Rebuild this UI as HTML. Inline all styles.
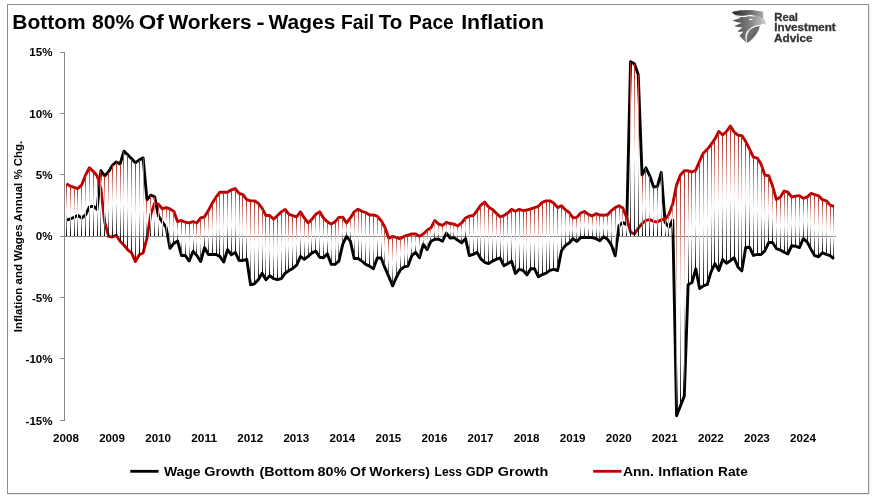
<!DOCTYPE html>
<html><head><meta charset="utf-8"><title>Chart</title>
<style>html,body{margin:0;padding:0;background:#fff;}body{width:875px;height:498px;position:relative;overflow:hidden;font-family:"Liberation Sans",sans-serif;}</style>
</head><body>
<svg width="875" height="498" viewBox="0 0 875 498" style="position:absolute;left:0;top:0;will-change:transform;transform:translateZ(0)">
<defs>
<linearGradient id="g" x1="0" y1="0" x2="0" y2="1">
<stop offset="0" stop-color="#ae2216"/><stop offset="0.54" stop-color="#ffffff"/><stop offset="1" stop-color="#000000"/>
</linearGradient>
<linearGradient id="e1" x1="0" y1="0" x2="1" y2="0"><stop offset="0" stop-color="#2a2a2a"/><stop offset="0.5" stop-color="#5a5a5a"/><stop offset="1" stop-color="#a8a8a8"/></linearGradient>
<linearGradient id="e3" x1="0" y1="0" x2="1" y2="0"><stop offset="0" stop-color="#454545"/><stop offset="0.5" stop-color="#7c7c7c"/><stop offset="1" stop-color="#cfcfcf"/></linearGradient>
<linearGradient id="e2" x1="0" y1="0" x2="1" y2="1"><stop offset="0" stop-color="#8c8c8c"/><stop offset="1" stop-color="#444444"/></linearGradient>
</defs>
<rect x="7.5" y="4.5" width="861" height="489" fill="#fff" stroke="#8c8c8c" stroke-width="1"/>
<path d="M869,5 V494 H8" fill="none" stroke="#9a9a9a" stroke-width="0.5"/>
<rect x="64" y="52" width="1" height="369" fill="#868686" shape-rendering="crispEdges"/>
<rect x="60" y="52" width="4" height="1" fill="#868686" shape-rendering="crispEdges"/>
<rect x="60" y="113" width="4" height="1" fill="#868686" shape-rendering="crispEdges"/>
<rect x="60" y="174" width="4" height="1" fill="#868686" shape-rendering="crispEdges"/>
<rect x="60" y="236" width="4" height="1" fill="#868686" shape-rendering="crispEdges"/>
<rect x="60" y="297" width="4" height="1" fill="#868686" shape-rendering="crispEdges"/>
<rect x="60" y="358" width="4" height="1" fill="#868686" shape-rendering="crispEdges"/>
<rect x="60" y="420" width="4" height="1" fill="#868686" shape-rendering="crispEdges"/>
<rect x="64" y="236" width="772" height="1" fill="#868686" shape-rendering="crispEdges"/>
<path d="M66.36,220.21 L70.20,218.98 L74.04,217.39 L77.87,215.30 L81.71,218.12 L85.55,214.93 L89.39,206.96 L93.23,206.10 L97.06,209.41 L100.90,170.77 L104.74,175.92 L108.58,171.63 L112.42,165.25 L116.25,161.94 L120.09,164.02 L123.93,151.14 L127.77,154.70 L131.61,158.75 L135.44,162.80 L139.28,159.85 L143.12,157.89 L146.96,199.72 L150.80,195.18 L154.63,196.78 L158.47,216.04 L162.31,221.92 L166.15,227.45 L169.99,248.30 L173.82,243.39 L177.66,241.06 L181.50,255.54 L185.34,255.54 L189.18,260.93 L193.01,251.49 L196.85,255.41 L200.69,261.55 L204.53,247.56 L208.37,254.43 L212.20,254.43 L216.04,254.43 L219.88,256.40 L223.72,262.04 L227.56,249.65 L231.39,254.80 L235.23,252.35 L239.07,260.44 L242.91,260.44 L246.75,259.34 L250.58,284.85 L254.42,283.75 L258.26,279.70 L262.10,273.20 L265.94,279.70 L269.77,275.65 L273.61,278.60 L277.45,279.70 L281.29,278.60 L285.13,273.20 L288.96,270.50 L292.80,268.42 L296.64,265.23 L300.48,256.40 L304.32,259.34 L308.15,256.40 L311.99,252.84 L315.83,251.12 L319.67,257.25 L323.51,257.74 L327.34,253.70 L331.18,264.37 L335.02,264.25 L338.86,261.18 L342.70,244.37 L346.53,236.40 L350.37,241.18 L354.21,258.48 L358.05,258.48 L361.89,261.18 L365.72,264.37 L369.56,266.09 L373.40,268.78 L377.24,257.99 L381.08,257.99 L384.91,267.68 L388.75,276.51 L392.59,285.84 L396.43,277.25 L400.27,270.01 L404.10,266.82 L407.94,266.09 L411.78,255.66 L415.62,252.35 L419.46,257.74 L423.29,244.37 L427.13,249.65 L430.97,241.18 L434.81,239.22 L438.65,239.22 L442.48,241.18 L446.32,233.09 L450.16,237.99 L454.00,237.63 L457.84,240.33 L461.67,242.78 L465.51,238.61 L469.35,255.66 L473.19,254.43 L477.03,252.35 L480.86,258.85 L484.70,262.28 L488.54,263.63 L492.38,261.18 L496.22,259.34 L500.05,257.99 L503.89,265.72 L507.73,263.63 L511.57,261.18 L515.41,273.57 L519.24,269.28 L523.08,270.38 L526.92,274.92 L530.76,268.78 L534.60,268.78 L538.43,276.76 L542.27,274.55 L546.11,273.20 L549.95,270.38 L553.79,269.28 L557.62,270.50 L561.46,250.75 L565.30,245.60 L569.14,243.02 L572.98,238.73 L576.81,241.43 L580.65,237.63 L584.49,237.50 L588.33,237.50 L592.17,237.50 L596.00,238.61 L599.84,240.69 L603.68,236.77 L607.52,239.22 L611.36,244.86 L615.19,255.78 L619.03,225.61 L622.87,222.42 L626.71,224.75 L630.55,61.72 L634.38,63.80 L638.22,74.48 L642.06,175.06 L645.90,167.83 L649.74,175.80 L653.57,187.09 L657.41,186.35 L661.25,172.37 L665.09,222.42 L668.93,227.20 L672.76,219.96 L676.60,415.74 L680.44,405.93 L684.28,396.12 L688.12,284.85 L691.95,282.52 L695.79,268.78 L699.63,288.53 L703.47,285.84 L707.31,284.49 L711.14,271.61 L714.98,263.63 L718.82,270.50 L722.66,259.58 L726.50,263.26 L730.33,260.69 L734.17,257.74 L738.01,267.19 L741.85,270.87 L745.69,247.56 L749.52,247.19 L753.36,255.41 L757.20,254.43 L761.04,254.43 L764.88,250.75 L768.71,242.53 L772.55,242.41 L776.39,248.54 L780.23,250.02 L784.07,252.22 L787.90,253.94 L791.74,245.72 L795.58,246.21 L799.42,247.56 L803.26,238.73 L807.09,241.92 L810.93,249.16 L814.77,255.66 L818.61,256.76 L822.45,252.72 L826.28,254.31 L830.12,255.66 L833.96,258.85" fill="none" stroke="#000" stroke-width="2.9" stroke-linejoin="round" stroke-linecap="butt"/>
<path d="M66.36,183.65 L70.20,186.11 L74.04,187.33 L77.87,188.56 L81.71,184.88 L85.55,175.06 L89.39,167.70 L93.23,171.38 L97.06,175.68 L100.90,188.56 L104.74,222.29 L108.58,236.40 L112.42,237.01 L116.25,235.17 L120.09,241.31 L123.93,244.99 L127.77,249.89 L131.61,252.96 L135.44,261.55 L139.28,254.80 L143.12,252.96 L146.96,238.24 L150.80,214.32 L154.63,203.28 L158.47,204.14 L162.31,208.80 L166.15,207.57 L169.99,208.92 L173.82,211.38 L177.66,221.68 L181.50,220.45 L185.34,222.29 L189.18,222.91 L193.01,221.68 L196.85,222.91 L200.69,218.00 L204.53,216.77 L208.37,210.64 L212.20,203.28 L216.04,197.15 L219.88,192.24 L223.72,192.24 L227.56,192.24 L231.39,189.79 L235.23,188.56 L239.07,193.47 L242.91,194.69 L246.75,199.60 L250.58,200.83 L254.42,200.83 L258.26,203.28 L262.10,208.19 L265.94,215.55 L269.77,215.55 L273.61,219.23 L277.45,215.55 L281.29,211.87 L285.13,209.41 L288.96,214.32 L292.80,215.55 L296.64,216.77 L300.48,211.87 L304.32,218.00 L308.15,222.91 L311.99,219.23 L315.83,214.32 L319.67,211.87 L323.51,218.00 L327.34,221.68 L331.18,224.13 L335.02,221.68 L338.86,217.39 L342.70,217.14 L346.53,222.91 L350.37,218.00 L354.21,211.87 L358.05,209.17 L361.89,211.25 L365.72,212.60 L369.56,214.93 L373.40,214.93 L377.24,216.16 L381.08,220.45 L384.91,227.20 L388.75,238.24 L392.59,236.40 L396.43,237.63 L400.27,238.85 L404.10,236.40 L407.94,235.17 L411.78,233.95 L415.62,233.95 L419.46,236.40 L423.29,233.95 L427.13,230.27 L430.97,227.81 L434.81,220.45 L438.65,224.13 L442.48,225.36 L446.32,222.29 L450.16,223.52 L454.00,224.13 L457.84,225.97 L461.67,222.91 L465.51,218.00 L469.35,216.16 L473.19,215.55 L477.03,210.64 L480.86,205.12 L484.70,202.05 L488.54,206.96 L492.38,209.41 L496.22,213.09 L500.05,216.77 L503.89,215.55 L507.73,213.09 L511.57,209.41 L515.41,211.25 L519.24,209.41 L523.08,210.64 L526.92,210.03 L530.76,208.80 L534.60,207.57 L538.43,206.35 L542.27,202.30 L546.11,200.83 L549.95,200.83 L553.79,203.28 L557.62,207.57 L561.46,205.73 L565.30,209.66 L569.14,212.48 L572.98,217.75 L576.81,217.39 L580.65,213.09 L584.49,211.50 L588.33,214.32 L592.17,215.91 L596.00,213.71 L599.84,215.06 L603.68,215.30 L607.52,214.81 L611.36,210.64 L615.19,207.57 L619.03,205.73 L622.87,207.94 L626.71,217.63 L630.55,232.11 L634.38,233.95 L638.22,228.43 L642.06,223.52 L645.90,220.45 L649.74,219.59 L653.57,221.43 L657.41,222.05 L661.25,219.72 L665.09,219.23 L668.93,214.32 L672.76,203.89 L676.60,184.88 L680.44,175.06 L684.28,170.77 L688.12,170.77 L691.95,172.00 L695.79,170.16 L699.63,160.96 L703.47,152.98 L707.31,149.30 L711.14,144.40 L714.98,138.88 L718.82,131.52 L722.66,134.95 L726.50,131.52 L730.33,126.00 L734.17,132.13 L738.01,135.20 L741.85,135.57 L745.69,141.58 L749.52,149.06 L753.36,157.16 L757.20,158.14 L761.04,164.02 L764.88,175.31 L768.71,175.68 L772.55,186.11 L776.39,199.60 L780.23,197.15 L784.07,191.01 L787.90,192.24 L791.74,197.15 L795.58,196.16 L799.42,195.67 L803.26,198.37 L807.09,197.15 L810.93,193.47 L814.77,194.69 L818.61,195.92 L822.45,199.60 L826.28,200.83 L830.12,205.12 L833.96,206.35" fill="none" stroke="#c00000" stroke-width="2.9" stroke-linejoin="round" stroke-linecap="butt"/>
<g shape-rendering="crispEdges"><rect x="66" y="183.65" width="1" height="52.75" fill="url(#g)"/><rect x="70" y="186.11" width="1" height="50.29" fill="url(#g)"/><rect x="74" y="187.33" width="1" height="49.07" fill="url(#g)"/><rect x="77" y="188.56" width="1" height="47.84" fill="url(#g)"/><rect x="81" y="184.88" width="1" height="51.52" fill="url(#g)"/><rect x="85" y="175.06" width="1" height="61.34" fill="url(#g)"/><rect x="89" y="167.70" width="1" height="68.70" fill="url(#g)"/><rect x="93" y="171.38" width="1" height="65.02" fill="url(#g)"/><rect x="97" y="175.68" width="1" height="60.72" fill="url(#g)"/><rect x="100" y="170.77" width="1" height="65.63" fill="url(#g)"/><rect x="104" y="175.92" width="1" height="60.48" fill="url(#g)"/><rect x="108" y="171.63" width="1" height="64.77" fill="url(#g)"/><rect x="112" y="165.25" width="1" height="71.76" fill="url(#g)"/><rect x="116" y="161.94" width="1" height="74.46" fill="url(#g)"/><rect x="120" y="164.02" width="1" height="77.28" fill="url(#g)"/><rect x="123" y="151.14" width="1" height="93.84" fill="url(#g)"/><rect x="127" y="154.70" width="1" height="95.19" fill="url(#g)"/><rect x="131" y="158.75" width="1" height="94.21" fill="url(#g)"/><rect x="135" y="162.80" width="1" height="98.75" fill="url(#g)"/><rect x="139" y="159.85" width="1" height="94.95" fill="url(#g)"/><rect x="143" y="157.89" width="1" height="95.07" fill="url(#g)"/><rect x="146" y="199.72" width="1" height="38.52" fill="url(#g)"/><rect x="150" y="195.18" width="1" height="41.22" fill="url(#g)"/><rect x="154" y="196.78" width="1" height="39.62" fill="url(#g)"/><rect x="158" y="204.14" width="1" height="32.26" fill="url(#g)"/><rect x="162" y="208.80" width="1" height="27.60" fill="url(#g)"/><rect x="166" y="207.57" width="1" height="28.83" fill="url(#g)"/><rect x="169" y="208.92" width="1" height="39.38" fill="url(#g)"/><rect x="173" y="211.38" width="1" height="32.02" fill="url(#g)"/><rect x="177" y="221.68" width="1" height="19.38" fill="url(#g)"/><rect x="181" y="220.45" width="1" height="35.08" fill="url(#g)"/><rect x="185" y="222.29" width="1" height="33.24" fill="url(#g)"/><rect x="189" y="222.91" width="1" height="38.03" fill="url(#g)"/><rect x="193" y="221.68" width="1" height="29.81" fill="url(#g)"/><rect x="196" y="222.91" width="1" height="32.51" fill="url(#g)"/><rect x="200" y="218.00" width="1" height="43.55" fill="url(#g)"/><rect x="204" y="216.77" width="1" height="30.79" fill="url(#g)"/><rect x="208" y="210.64" width="1" height="43.79" fill="url(#g)"/><rect x="212" y="203.28" width="1" height="51.15" fill="url(#g)"/><rect x="216" y="197.15" width="1" height="57.29" fill="url(#g)"/><rect x="219" y="192.24" width="1" height="64.16" fill="url(#g)"/><rect x="223" y="192.24" width="1" height="69.80" fill="url(#g)"/><rect x="227" y="192.24" width="1" height="57.41" fill="url(#g)"/><rect x="231" y="189.79" width="1" height="65.02" fill="url(#g)"/><rect x="235" y="188.56" width="1" height="63.79" fill="url(#g)"/><rect x="239" y="193.47" width="1" height="66.98" fill="url(#g)"/><rect x="242" y="194.69" width="1" height="65.75" fill="url(#g)"/><rect x="246" y="199.60" width="1" height="59.74" fill="url(#g)"/><rect x="250" y="200.83" width="1" height="84.03" fill="url(#g)"/><rect x="254" y="200.83" width="1" height="82.92" fill="url(#g)"/><rect x="258" y="203.28" width="1" height="76.42" fill="url(#g)"/><rect x="262" y="208.19" width="1" height="65.02" fill="url(#g)"/><rect x="265" y="215.55" width="1" height="64.16" fill="url(#g)"/><rect x="269" y="215.55" width="1" height="60.11" fill="url(#g)"/><rect x="273" y="219.23" width="1" height="59.37" fill="url(#g)"/><rect x="277" y="215.55" width="1" height="64.16" fill="url(#g)"/><rect x="281" y="211.87" width="1" height="66.73" fill="url(#g)"/><rect x="285" y="209.41" width="1" height="63.79" fill="url(#g)"/><rect x="288" y="214.32" width="1" height="56.18" fill="url(#g)"/><rect x="292" y="215.55" width="1" height="52.87" fill="url(#g)"/><rect x="296" y="216.77" width="1" height="48.45" fill="url(#g)"/><rect x="300" y="211.87" width="1" height="44.53" fill="url(#g)"/><rect x="304" y="218.00" width="1" height="41.34" fill="url(#g)"/><rect x="308" y="222.91" width="1" height="33.49" fill="url(#g)"/><rect x="311" y="219.23" width="1" height="33.61" fill="url(#g)"/><rect x="315" y="214.32" width="1" height="36.80" fill="url(#g)"/><rect x="319" y="211.87" width="1" height="45.39" fill="url(#g)"/><rect x="323" y="218.00" width="1" height="39.75" fill="url(#g)"/><rect x="327" y="221.68" width="1" height="32.02" fill="url(#g)"/><rect x="331" y="224.13" width="1" height="40.24" fill="url(#g)"/><rect x="335" y="221.68" width="1" height="42.57" fill="url(#g)"/><rect x="338" y="217.39" width="1" height="43.79" fill="url(#g)"/><rect x="342" y="217.14" width="1" height="27.23" fill="url(#g)"/><rect x="346" y="222.91" width="1" height="13.49" fill="url(#g)"/><rect x="350" y="218.00" width="1" height="23.18" fill="url(#g)"/><rect x="354" y="211.87" width="1" height="46.61" fill="url(#g)"/><rect x="358" y="209.17" width="1" height="49.31" fill="url(#g)"/><rect x="361" y="211.25" width="1" height="49.93" fill="url(#g)"/><rect x="365" y="212.60" width="1" height="51.77" fill="url(#g)"/><rect x="369" y="214.93" width="1" height="51.15" fill="url(#g)"/><rect x="373" y="214.93" width="1" height="53.85" fill="url(#g)"/><rect x="377" y="216.16" width="1" height="41.83" fill="url(#g)"/><rect x="381" y="220.45" width="1" height="37.54" fill="url(#g)"/><rect x="384" y="227.20" width="1" height="40.48" fill="url(#g)"/><rect x="388" y="236.40" width="1" height="40.11" fill="url(#g)"/><rect x="392" y="236.40" width="1" height="49.44" fill="url(#g)"/><rect x="396" y="236.40" width="1" height="40.85" fill="url(#g)"/><rect x="400" y="236.40" width="1" height="33.61" fill="url(#g)"/><rect x="404" y="236.40" width="1" height="30.42" fill="url(#g)"/><rect x="407" y="235.17" width="1" height="30.91" fill="url(#g)"/><rect x="411" y="233.95" width="1" height="21.71" fill="url(#g)"/><rect x="415" y="233.95" width="1" height="18.40" fill="url(#g)"/><rect x="419" y="236.40" width="1" height="21.34" fill="url(#g)"/><rect x="423" y="233.95" width="1" height="10.43" fill="url(#g)"/><rect x="427" y="230.27" width="1" height="19.38" fill="url(#g)"/><rect x="430" y="227.81" width="1" height="13.37" fill="url(#g)"/><rect x="434" y="220.45" width="1" height="18.77" fill="url(#g)"/><rect x="438" y="224.13" width="1" height="15.09" fill="url(#g)"/><rect x="442" y="225.36" width="1" height="15.82" fill="url(#g)"/><rect x="446" y="222.29" width="1" height="14.11" fill="url(#g)"/><rect x="450" y="223.52" width="1" height="14.48" fill="url(#g)"/><rect x="453" y="224.13" width="1" height="13.49" fill="url(#g)"/><rect x="457" y="225.97" width="1" height="14.35" fill="url(#g)"/><rect x="461" y="222.91" width="1" height="19.87" fill="url(#g)"/><rect x="465" y="218.00" width="1" height="20.61" fill="url(#g)"/><rect x="469" y="216.16" width="1" height="39.50" fill="url(#g)"/><rect x="473" y="215.55" width="1" height="38.89" fill="url(#g)"/><rect x="477" y="210.64" width="1" height="41.71" fill="url(#g)"/><rect x="480" y="205.12" width="1" height="53.73" fill="url(#g)"/><rect x="484" y="202.05" width="1" height="60.23" fill="url(#g)"/><rect x="488" y="206.96" width="1" height="56.67" fill="url(#g)"/><rect x="492" y="209.41" width="1" height="51.77" fill="url(#g)"/><rect x="496" y="213.09" width="1" height="46.25" fill="url(#g)"/><rect x="500" y="216.77" width="1" height="41.22" fill="url(#g)"/><rect x="503" y="215.55" width="1" height="50.17" fill="url(#g)"/><rect x="507" y="213.09" width="1" height="50.54" fill="url(#g)"/><rect x="511" y="209.41" width="1" height="51.77" fill="url(#g)"/><rect x="515" y="211.25" width="1" height="62.32" fill="url(#g)"/><rect x="519" y="209.41" width="1" height="59.86" fill="url(#g)"/><rect x="523" y="210.64" width="1" height="59.74" fill="url(#g)"/><rect x="526" y="210.03" width="1" height="64.89" fill="url(#g)"/><rect x="530" y="208.80" width="1" height="59.99" fill="url(#g)"/><rect x="534" y="207.57" width="1" height="61.21" fill="url(#g)"/><rect x="538" y="206.35" width="1" height="70.41" fill="url(#g)"/><rect x="542" y="202.30" width="1" height="72.25" fill="url(#g)"/><rect x="546" y="200.83" width="1" height="72.38" fill="url(#g)"/><rect x="549" y="200.83" width="1" height="69.55" fill="url(#g)"/><rect x="553" y="203.28" width="1" height="66.00" fill="url(#g)"/><rect x="557" y="207.57" width="1" height="62.93" fill="url(#g)"/><rect x="561" y="205.73" width="1" height="45.02" fill="url(#g)"/><rect x="565" y="209.66" width="1" height="35.94" fill="url(#g)"/><rect x="569" y="212.48" width="1" height="30.54" fill="url(#g)"/><rect x="572" y="217.75" width="1" height="20.98" fill="url(#g)"/><rect x="576" y="217.39" width="1" height="24.04" fill="url(#g)"/><rect x="580" y="213.09" width="1" height="24.53" fill="url(#g)"/><rect x="584" y="211.50" width="1" height="26.01" fill="url(#g)"/><rect x="588" y="214.32" width="1" height="23.18" fill="url(#g)"/><rect x="592" y="215.91" width="1" height="21.59" fill="url(#g)"/><rect x="596" y="213.71" width="1" height="24.90" fill="url(#g)"/><rect x="599" y="215.06" width="1" height="25.64" fill="url(#g)"/><rect x="603" y="215.30" width="1" height="21.47" fill="url(#g)"/><rect x="607" y="214.81" width="1" height="24.41" fill="url(#g)"/><rect x="611" y="210.64" width="1" height="34.22" fill="url(#g)"/><rect x="615" y="207.57" width="1" height="48.21" fill="url(#g)"/><rect x="619" y="205.73" width="1" height="30.67" fill="url(#g)"/><rect x="622" y="207.94" width="1" height="28.46" fill="url(#g)"/><rect x="626" y="217.63" width="1" height="18.77" fill="url(#g)"/><rect x="630" y="61.72" width="1" height="174.68" fill="url(#g)"/><rect x="634" y="63.80" width="1" height="172.60" fill="url(#g)"/><rect x="638" y="74.48" width="1" height="161.92" fill="url(#g)"/><rect x="642" y="175.06" width="1" height="61.34" fill="url(#g)"/><rect x="645" y="167.83" width="1" height="68.57" fill="url(#g)"/><rect x="649" y="175.80" width="1" height="60.60" fill="url(#g)"/><rect x="653" y="187.09" width="1" height="49.31" fill="url(#g)"/><rect x="657" y="186.35" width="1" height="50.05" fill="url(#g)"/><rect x="661" y="172.37" width="1" height="64.03" fill="url(#g)"/><rect x="665" y="219.23" width="1" height="17.17" fill="url(#g)"/><rect x="668" y="214.32" width="1" height="22.08" fill="url(#g)"/><rect x="672" y="203.89" width="1" height="32.51" fill="url(#g)"/><rect x="676" y="184.88" width="1" height="230.86" fill="url(#g)"/><rect x="680" y="175.06" width="1" height="230.86" fill="url(#g)"/><rect x="684" y="170.77" width="1" height="225.34" fill="url(#g)"/><rect x="688" y="170.77" width="1" height="114.08" fill="url(#g)"/><rect x="691" y="172.00" width="1" height="110.53" fill="url(#g)"/><rect x="695" y="170.16" width="1" height="98.63" fill="url(#g)"/><rect x="699" y="160.96" width="1" height="127.58" fill="url(#g)"/><rect x="703" y="152.98" width="1" height="132.85" fill="url(#g)"/><rect x="707" y="149.30" width="1" height="135.18" fill="url(#g)"/><rect x="711" y="144.40" width="1" height="127.21" fill="url(#g)"/><rect x="714" y="138.88" width="1" height="124.76" fill="url(#g)"/><rect x="718" y="131.52" width="1" height="138.99" fill="url(#g)"/><rect x="722" y="134.95" width="1" height="124.63" fill="url(#g)"/><rect x="726" y="131.52" width="1" height="131.75" fill="url(#g)"/><rect x="730" y="126.00" width="1" height="134.69" fill="url(#g)"/><rect x="734" y="132.13" width="1" height="125.61" fill="url(#g)"/><rect x="738" y="135.20" width="1" height="131.99" fill="url(#g)"/><rect x="741" y="135.57" width="1" height="135.31" fill="url(#g)"/><rect x="745" y="141.58" width="1" height="105.99" fill="url(#g)"/><rect x="749" y="149.06" width="1" height="98.14" fill="url(#g)"/><rect x="753" y="157.16" width="1" height="98.26" fill="url(#g)"/><rect x="757" y="158.14" width="1" height="96.30" fill="url(#g)"/><rect x="761" y="164.02" width="1" height="90.41" fill="url(#g)"/><rect x="764" y="175.31" width="1" height="75.44" fill="url(#g)"/><rect x="768" y="175.68" width="1" height="66.86" fill="url(#g)"/><rect x="772" y="186.11" width="1" height="56.31" fill="url(#g)"/><rect x="776" y="199.60" width="1" height="48.95" fill="url(#g)"/><rect x="780" y="197.15" width="1" height="52.87" fill="url(#g)"/><rect x="784" y="191.01" width="1" height="61.21" fill="url(#g)"/><rect x="787" y="192.24" width="1" height="61.70" fill="url(#g)"/><rect x="791" y="197.15" width="1" height="48.58" fill="url(#g)"/><rect x="795" y="196.16" width="1" height="50.05" fill="url(#g)"/><rect x="799" y="195.67" width="1" height="51.89" fill="url(#g)"/><rect x="803" y="198.37" width="1" height="40.36" fill="url(#g)"/><rect x="807" y="197.15" width="1" height="44.77" fill="url(#g)"/><rect x="810" y="193.47" width="1" height="55.69" fill="url(#g)"/><rect x="814" y="194.69" width="1" height="60.97" fill="url(#g)"/><rect x="818" y="195.92" width="1" height="60.84" fill="url(#g)"/><rect x="822" y="199.60" width="1" height="53.12" fill="url(#g)"/><rect x="826" y="200.83" width="1" height="53.48" fill="url(#g)"/><rect x="830" y="205.12" width="1" height="50.54" fill="url(#g)"/><rect x="833" y="206.35" width="1" height="52.50" fill="url(#g)"/></g>
<text x="12.30" y="28.50" font-family="Liberation Sans, sans-serif" font-weight="bold" font-size="19.6" textLength="73.40" lengthAdjust="spacingAndGlyphs" fill="#000">Bottom</text><text x="91.90" y="28.50" font-family="Liberation Sans, sans-serif" font-weight="bold" font-size="19.6" textLength="42.40" lengthAdjust="spacingAndGlyphs" fill="#000">80%</text><text x="138.80" y="28.50" font-family="Liberation Sans, sans-serif" font-weight="bold" font-size="19.6" textLength="25.00" lengthAdjust="spacingAndGlyphs" fill="#000">Of</text><text x="168.50" y="28.50" font-family="Liberation Sans, sans-serif" font-weight="bold" font-size="19.6" textLength="83.20" lengthAdjust="spacingAndGlyphs" fill="#000">Workers</text><text x="256.60" y="28.50" font-family="Liberation Sans, sans-serif" font-weight="bold" font-size="19.6" textLength="8.10" lengthAdjust="spacingAndGlyphs" fill="#000">-</text><text x="268.60" y="28.50" font-family="Liberation Sans, sans-serif" font-weight="bold" font-size="19.6" textLength="66.70" lengthAdjust="spacingAndGlyphs" fill="#000">Wages</text><text x="341.00" y="28.50" font-family="Liberation Sans, sans-serif" font-weight="bold" font-size="19.6" textLength="33.20" lengthAdjust="spacingAndGlyphs" fill="#000">Fail</text><text x="378.70" y="28.50" font-family="Liberation Sans, sans-serif" font-weight="bold" font-size="19.6" textLength="23.60" lengthAdjust="spacingAndGlyphs" fill="#000">To</text><text x="409.10" y="28.50" font-family="Liberation Sans, sans-serif" font-weight="bold" font-size="19.6" textLength="44.60" lengthAdjust="spacingAndGlyphs" fill="#000">Pace</text><text x="461.20" y="28.50" font-family="Liberation Sans, sans-serif" font-weight="bold" font-size="19.6" textLength="82.90" lengthAdjust="spacingAndGlyphs" fill="#000">Inflation</text>
<text transform="translate(52.6,56.20) scale(1.075,1)" x="0" y="0" text-anchor="end" font-family="Liberation Sans, sans-serif" font-weight="bold" font-size="10.8" fill="#000">15%</text>
<text transform="translate(52.6,117.53) scale(1.075,1)" x="0" y="0" text-anchor="end" font-family="Liberation Sans, sans-serif" font-weight="bold" font-size="10.8" fill="#000">10%</text>
<text transform="translate(52.6,178.87) scale(1.075,1)" x="0" y="0" text-anchor="end" font-family="Liberation Sans, sans-serif" font-weight="bold" font-size="10.8" fill="#000">5%</text>
<text transform="translate(52.6,240.20) scale(1.075,1)" x="0" y="0" text-anchor="end" font-family="Liberation Sans, sans-serif" font-weight="bold" font-size="10.8" fill="#000">0%</text>
<text transform="translate(52.6,301.53) scale(1.075,1)" x="0" y="0" text-anchor="end" font-family="Liberation Sans, sans-serif" font-weight="bold" font-size="10.8" fill="#000">-5%</text>
<text transform="translate(52.6,362.86) scale(1.075,1)" x="0" y="0" text-anchor="end" font-family="Liberation Sans, sans-serif" font-weight="bold" font-size="10.8" fill="#000">-10%</text>
<text transform="translate(52.6,425.10) scale(1.075,1)" x="0" y="0" text-anchor="end" font-family="Liberation Sans, sans-serif" font-weight="bold" font-size="10.8" fill="#000">-15%</text>
<text x="66.00" y="442" text-anchor="middle" font-family="Liberation Sans, sans-serif" font-weight="bold" font-size="10.8" textLength="25.8" lengthAdjust="spacingAndGlyphs" fill="#000">2008</text>
<text x="112.06" y="442" text-anchor="middle" font-family="Liberation Sans, sans-serif" font-weight="bold" font-size="10.8" textLength="25.8" lengthAdjust="spacingAndGlyphs" fill="#000">2009</text>
<text x="158.12" y="442" text-anchor="middle" font-family="Liberation Sans, sans-serif" font-weight="bold" font-size="10.8" textLength="25.8" lengthAdjust="spacingAndGlyphs" fill="#000">2010</text>
<text x="204.18" y="442" text-anchor="middle" font-family="Liberation Sans, sans-serif" font-weight="bold" font-size="10.8" textLength="25.8" lengthAdjust="spacingAndGlyphs" fill="#000">2011</text>
<text x="250.24" y="442" text-anchor="middle" font-family="Liberation Sans, sans-serif" font-weight="bold" font-size="10.8" textLength="25.8" lengthAdjust="spacingAndGlyphs" fill="#000">2012</text>
<text x="296.30" y="442" text-anchor="middle" font-family="Liberation Sans, sans-serif" font-weight="bold" font-size="10.8" textLength="25.8" lengthAdjust="spacingAndGlyphs" fill="#000">2013</text>
<text x="342.36" y="442" text-anchor="middle" font-family="Liberation Sans, sans-serif" font-weight="bold" font-size="10.8" textLength="25.8" lengthAdjust="spacingAndGlyphs" fill="#000">2014</text>
<text x="388.42" y="442" text-anchor="middle" font-family="Liberation Sans, sans-serif" font-weight="bold" font-size="10.8" textLength="25.8" lengthAdjust="spacingAndGlyphs" fill="#000">2015</text>
<text x="434.48" y="442" text-anchor="middle" font-family="Liberation Sans, sans-serif" font-weight="bold" font-size="10.8" textLength="25.8" lengthAdjust="spacingAndGlyphs" fill="#000">2016</text>
<text x="480.54" y="442" text-anchor="middle" font-family="Liberation Sans, sans-serif" font-weight="bold" font-size="10.8" textLength="25.8" lengthAdjust="spacingAndGlyphs" fill="#000">2017</text>
<text x="526.60" y="442" text-anchor="middle" font-family="Liberation Sans, sans-serif" font-weight="bold" font-size="10.8" textLength="25.8" lengthAdjust="spacingAndGlyphs" fill="#000">2018</text>
<text x="572.66" y="442" text-anchor="middle" font-family="Liberation Sans, sans-serif" font-weight="bold" font-size="10.8" textLength="25.8" lengthAdjust="spacingAndGlyphs" fill="#000">2019</text>
<text x="618.72" y="442" text-anchor="middle" font-family="Liberation Sans, sans-serif" font-weight="bold" font-size="10.8" textLength="25.8" lengthAdjust="spacingAndGlyphs" fill="#000">2020</text>
<text x="664.78" y="442" text-anchor="middle" font-family="Liberation Sans, sans-serif" font-weight="bold" font-size="10.8" textLength="25.8" lengthAdjust="spacingAndGlyphs" fill="#000">2021</text>
<text x="710.84" y="442" text-anchor="middle" font-family="Liberation Sans, sans-serif" font-weight="bold" font-size="10.8" textLength="25.8" lengthAdjust="spacingAndGlyphs" fill="#000">2022</text>
<text x="756.90" y="442" text-anchor="middle" font-family="Liberation Sans, sans-serif" font-weight="bold" font-size="10.8" textLength="25.8" lengthAdjust="spacingAndGlyphs" fill="#000">2023</text>
<text x="802.96" y="442" text-anchor="middle" font-family="Liberation Sans, sans-serif" font-weight="bold" font-size="10.8" textLength="25.8" lengthAdjust="spacingAndGlyphs" fill="#000">2024</text>
<text transform="translate(22.3,236.5) rotate(-90)" text-anchor="middle" font-family="Liberation Sans, sans-serif" font-weight="bold" font-size="10.8" textLength="191.5" lengthAdjust="spacingAndGlyphs" fill="#000">Inflation and Wages Annual % Chg.</text>
<path d="M130.3,471.3 H158.6" stroke="#000" stroke-width="2.8"/>
<text x="163.90" y="475.80" font-family="Liberation Sans, sans-serif" font-weight="bold" font-size="13.5" textLength="36.70" lengthAdjust="spacingAndGlyphs" fill="#000">Wage</text><text x="204.20" y="475.80" font-family="Liberation Sans, sans-serif" font-weight="bold" font-size="13.5" textLength="50.50" lengthAdjust="spacingAndGlyphs" fill="#000">Growth</text><text x="259.40" y="475.80" font-family="Liberation Sans, sans-serif" font-weight="bold" font-size="13.5" textLength="55.10" lengthAdjust="spacingAndGlyphs" fill="#000">(Bottom</text><text x="317.60" y="475.80" font-family="Liberation Sans, sans-serif" font-weight="bold" font-size="13.5" textLength="28.90" lengthAdjust="spacingAndGlyphs" fill="#000">80%</text><text x="350.10" y="475.80" font-family="Liberation Sans, sans-serif" font-weight="bold" font-size="13.5" textLength="15.60" lengthAdjust="spacingAndGlyphs" fill="#000">Of</text><text x="369.30" y="475.80" font-family="Liberation Sans, sans-serif" font-weight="bold" font-size="13.5" textLength="60.70" lengthAdjust="spacingAndGlyphs" fill="#000">Workers)</text><text x="434.60" y="475.80" font-family="Liberation Sans, sans-serif" font-weight="bold" font-size="13.5" textLength="27.30" lengthAdjust="spacingAndGlyphs" fill="#000">Less</text><text x="465.80" y="475.80" font-family="Liberation Sans, sans-serif" font-weight="bold" font-size="13.5" textLength="27.60" lengthAdjust="spacingAndGlyphs" fill="#000">GDP</text><text x="497.80" y="475.80" font-family="Liberation Sans, sans-serif" font-weight="bold" font-size="13.5" textLength="50.50" lengthAdjust="spacingAndGlyphs" fill="#000">Growth</text>
<path d="M593.2,471.3 H621.5" stroke="#c00000" stroke-width="2.8"/>
<text x="622.90" y="475.80" font-family="Liberation Sans, sans-serif" font-weight="bold" font-size="13.5" textLength="31.10" lengthAdjust="spacingAndGlyphs" fill="#000">Ann.</text><text x="658.20" y="475.80" font-family="Liberation Sans, sans-serif" font-weight="bold" font-size="13.5" textLength="55.60" lengthAdjust="spacingAndGlyphs" fill="#000">Inflation</text><text x="718.10" y="475.80" font-family="Liberation Sans, sans-serif" font-weight="bold" font-size="13.5" textLength="29.70" lengthAdjust="spacingAndGlyphs" fill="#000">Rate</text>
<g font-family="Liberation Sans, sans-serif" font-weight="bold" font-size="10.3" fill="#333" stroke="#333" stroke-width="0.3"><text x="774.3" y="20.7" textLength="23.7" lengthAdjust="spacingAndGlyphs">Real</text><text x="774.3" y="31.1" textLength="61.4" lengthAdjust="spacingAndGlyphs">Investment</text><text x="774" y="41.55" textLength="38.5" lengthAdjust="spacingAndGlyphs">Advice</text></g>
<g transform="translate(726,6) scale(0.08432)">
<path d="M70,76 C120,50 330,38 440,72 L440,150 C465,165 478,190 466,226 C452,206 432,208 408,226 C330,228 250,270 232,345 C228,385 238,415 252,442 C215,410 185,380 160,352 C175,338 190,322 205,305 C180,308 155,306 132,300 C155,288 175,272 195,255 C160,254 125,248 97,238 C128,228 158,215 185,200 C145,196 108,184 78,168 C112,162 145,152 175,138 C130,125 95,100 70,76 Z" fill="url(#e3)"/>
<path d="M70,76 C120,50 330,38 440,72 L440,150 C400,118 330,95 250,100 C180,106 120,118 70,76 Z" fill="url(#e1)"/>
<path d="M82,88 C120,122 200,122 260,110 C300,104 330,112 352,128 C320,120 290,120 255,124 C190,138 115,135 82,88 Z" fill="#fff"/>
<path d="M247,432 C232,380 240,320 290,272 C330,242 370,234 405,234 C400,300 330,390 258,440 Z" fill="url(#e2)" stroke="#fff" stroke-width="9" stroke-linejoin="round"/>
<ellipse cx="295" cy="160" rx="22" ry="9" fill="#fff"/>
</g>
</svg>
</body></html>
